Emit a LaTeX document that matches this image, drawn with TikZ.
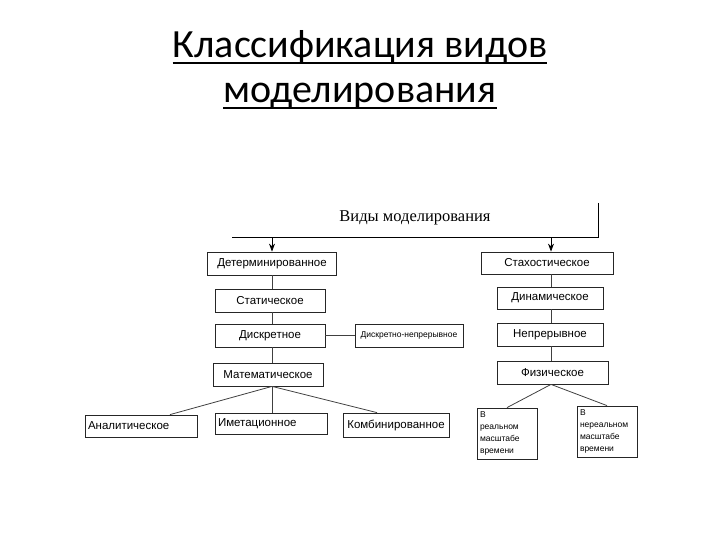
\documentclass[tikz,border=0pt]{standalone}
\usepackage{fontspec}
\setmainfont{Liberation Sans}
\newfontfamily\titlefont{Carlito}
\newfontfamily\headfont{Liberation Serif}
\usetikzlibrary{arrows.meta}

\tikzset{
  kind/.style={draw=black!85, line width=0.8pt, rectangle, inner sep=0pt,
    font=\fontsize{11.5}{13}\selectfont},
  small kind/.style={kind, font=\fontsize{8.5}{12}\selectfont},
  link/.style={draw=black!75, line width=0.8pt},
  pointer/.style={link, draw=black, -{Stealth[length=8pt,width=6pt]}}
}

\begin{document}
\begin{tikzpicture}[x=1pt,y=-1pt]
  \useasboundingbox (0,0) rectangle (720,540);

  % Title
  \node[inner sep=0pt, anchor=base, font=\titlefont\fontsize{40}{44}\selectfont] (t1) at (360,58) {Классификация видов};
  \node[inner sep=0pt, anchor=base, font=\titlefont\fontsize{40}{44}\selectfont] (t2) at (360,103) {моделирования};
  \draw[line width=2.2pt] ([yshift=-5pt]t1.base west) -- ([yshift=-5pt]t1.base east);
  \draw[line width=2.2pt] ([yshift=-5pt]t2.base west) -- ([yshift=-5pt]t2.base east);

  % Head
  \node[inner sep=0pt, font=\headfont\fontsize{16.5}{18}\selectfont] (head) at (415,218) {Виды моделирования};
  \coordinate (top) at (598,203);
  \coordinate (corner) at (598,237);
  \coordinate (lend) at (232,237);
  \coordinate (hl) at (272,237);
  \coordinate (hr) at (551,237);
  \draw[link, draw=black] (top) -- (corner) -- (lend);

  % Left column
  \node[kind, minimum width=129, minimum height=23] (det) at (272,263.5) {Детерминированное};
  \node[kind, minimum width=110, minimum height=23] (stat) at (270,300.5) {Статическое};
  \node[kind, minimum width=110, minimum height=23] (disk) at (270,335.5) {Дискретное};
  \node[small kind, minimum width=108, minimum height=23] (dnp) at (409,335.5) {Дискретно-непрерывное};
  \node[kind, minimum width=110, minimum height=23] (mat) at (268,374.5) {Математическое};
  \node[kind, minimum width=112, minimum height=22, text width=106, align=left] (anal) at (141,426) {Аналитическое};
  \node[kind, minimum width=112, minimum height=21, text width=106, align=left] (imit) at (271,423.5) {Иметационное};
  \node[kind, minimum width=106, minimum height=24] (komb) at (396,425) {Комбинированное};

  \draw[pointer] (hl) -- (hl |- det.north);
  \draw[link] (det.south) -- (det.south |- stat.north);
  \draw[link] (det.south |- stat.south) -- (det.south |- disk.north);
  \draw[link] (det.south |- disk.south) -- (det.south |- mat.north);
  \draw[link] (disk.east) -- (dnp.west);
  \draw[link] (det.south |- mat.south) -- ([xshift=29pt]anal.north);
  \draw[link] (det.south |- mat.south) -- (det.south |- imit.north);
  \draw[link] (det.south |- mat.south) -- ([xshift=-19pt]komb.north);

  % Right column
  \node[kind, minimum width=132, minimum height=22] (sto) at (547,263) {Стахостическое};
  \node[kind, minimum width=106, minimum height=22] (dyn) at (550,298) {Динамическое};
  \node[kind, minimum width=106, minimum height=23] (nepr) at (550,334.5) {Непрерывное};
  \node[kind, minimum width=111, minimum height=23] (fiz) at (552.5,372.5) {Физическое};
  \node[small kind, minimum width=60, minimum height=51, text width=54, align=left] (real) at (507,433.5) {В\\реальном\\масштабе\\времени};
  \node[small kind, minimum width=60, minimum height=51, text width=54, align=left] (nreal) at (607,431.5) {В\\нереальном\\масштабе\\времени};

  \draw[pointer] (hr) -- (hr |- sto.north);
  \draw[link] (hr |- sto.south) -- (hr |- dyn.north);
  \draw[link] (hr |- dyn.south) -- (hr |- nepr.north);
  \draw[link] (hr |- nepr.south) -- (hr |- fiz.north);
  \draw[link] (hr |- fiz.south) -- (real.north);
  \draw[link] (hr |- fiz.south) -- (nreal.north);
\end{tikzpicture}
\end{document}
